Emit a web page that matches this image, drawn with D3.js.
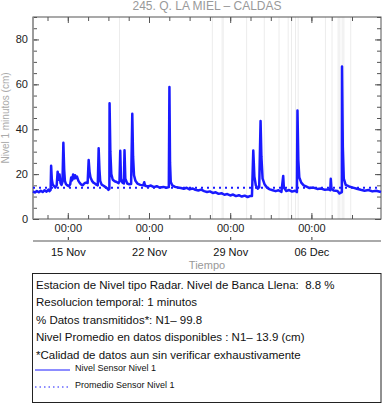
<!DOCTYPE html>
<html>
<head>
<meta charset="utf-8">
<script src="https://cdn.jsdelivr.net/npm/d3@7"></script>
<style>
  body { margin: 0; background: #fff; }
  svg { font-family: "Liberation Sans", Arial, sans-serif; display: block; }
  text { white-space: pre; }
</style>
</head>
<body>
<div id="chart"></div>
<script>
/* Series: time (month-day hour) and level in cm */
var times = [
  "11-12 00:00","11-12 04:00","11-12 08:00","11-12 12:00","11-12 16:00","11-12 20:00",
  "11-13 00:00","11-13 04:00","11-13 08:00","11-13 10:00","11-13 12:30","11-13 13:30","11-13 15:00","11-13 17:00","11-13 19:00","11-13 22:00",
  "11-14 01:00","11-14 03:00","11-14 05:00","11-14 07:00","11-14 09:00","11-14 11:00","11-14 13:00","11-14 14:50","11-14 16:30","11-14 18:00","11-14 20:00","11-14 23:00",
  "11-15 02:00","11-15 05:00","11-15 07:00","11-15 09:00","11-15 11:00","11-15 13:00","11-15 15:00","11-15 17:00","11-15 19:00","11-15 22:00",
  "11-16 01:00","11-16 04:00","11-16 07:00","11-16 10:00","11-16 13:00","11-16 17:00","11-16 19:10","11-16 21:00","11-16 23:00",
  "11-17 02:00","11-17 05:00","11-17 08:00","11-17 11:00","11-17 14:00","11-17 15:50","11-17 17:30","11-17 19:00","11-17 22:00",
  "11-18 02:00","11-18 06:00","11-18 10:00","11-18 12:00","11-18 14:00","11-18 14:25","11-18 16:00","11-18 18:00","11-18 21:00",
  "11-19 01:00","11-19 05:00","11-19 09:00","11-19 11:00","11-19 12:30","11-19 14:00","11-19 17:00","11-19 20:00","11-19 21:20","11-19 23:00",
  "11-20 03:00","11-20 07:00","11-20 11:00","11-20 13:25","11-20 15:00","11-20 17:00","11-20 20:00",
  "11-21 00:00","11-21 06:00","11-21 12:00","11-21 14:10","11-21 16:00","11-21 22:00",
  "11-22 04:00","11-22 10:00","11-22 16:00","11-22 22:00",
  "11-23 06:00","11-23 12:00","11-23 17:00","11-23 18:15","11-23 19:30","11-23 21:00",
  "11-24 00:00","11-24 06:00","11-24 12:00","11-24 18:00",
  "11-25 00:00","11-25 06:00","11-25 12:00","11-25 18:00",
  "11-26 00:00","11-26 06:00","11-26 12:00","11-26 18:00",
  "11-27 00:00","11-27 06:00","11-27 12:00","11-27 18:00",
  "11-28 00:00","11-28 06:00","11-28 12:00","11-28 18:00",
  "11-29 00:00","11-29 06:00","11-29 12:00","11-29 18:00",
  "11-30 00:00","11-30 06:00","11-30 12:00","11-30 18:00","11-30 21:00","11-30 23:45",
  "12-01 02:00","12-01 05:00","12-01 09:00","12-01 12:00","12-01 14:50","12-01 16:30","12-01 19:00","12-01 23:00",
  "12-02 04:00","12-02 10:00","12-02 16:00","12-02 22:00",
  "12-03 04:00","12-03 10:00","12-03 13:40","12-03 15:00","12-03 20:00",
  "12-04 02:00","12-04 08:00","12-04 14:00","12-04 18:00","12-04 19:10","12-04 21:00","12-04 23:00",
  "12-05 03:00","12-05 08:00","12-05 14:00","12-05 20:00",
  "12-06 04:00","12-06 12:00","12-06 20:00",
  "12-07 04:00","12-07 12:00","12-07 15:00","12-07 16:05","12-07 17:30","12-07 22:00",
  "12-08 06:00","12-08 10:00","12-08 15:00","12-08 15:20","12-08 17:00","12-08 19:00","12-08 23:00",
  "12-09 06:00","12-09 14:00","12-09 22:00",
  "12-10 06:00","12-10 14:00","12-10 22:00",
  "12-11 06:00","12-11 14:00","12-11 23:59"
];
var levels = [
  12.3,11.8,12.5,11.9,12.6,12.0,
  12.8,12.2,13.1,12.4,13.0,23.7,17.5,15.2,14.8,14.0,
  15.0,21.1,17.5,19.8,16.0,15.2,16.5,34.0,22.0,17.0,15.6,15.0,
  14.6,15.5,18.5,17.2,19.8,18.0,19.5,18.2,18.9,17.0,
  16.0,15.3,15.0,15.8,16.2,16.0,26.3,21.0,18.5,
  17.0,16.2,15.8,15.3,15.0,31.5,22.0,17.0,15.3,
  14.8,14.2,13.6,13.0,13.4,51.6,30.0,20.0,17.5,
  16.8,16.5,16.0,16.8,30.4,18.0,16.2,15.8,30.6,18.0,
  15.8,15.5,15.6,46.9,28.0,19.5,17.0,
  15.8,15.2,15.0,16.4,14.8,14.5,
  14.9,14.2,14.6,14.0,
  14.3,13.9,14.2,58.8,25.0,16.5,
  15.0,14.3,14.0,13.8,
  13.5,13.9,13.2,13.6,
  13.0,12.7,13.1,12.4,
  12.0,12.3,11.6,11.9,
  11.2,11.5,10.8,11.1,
  10.5,10.9,10.2,10.6,
  10.0,10.4,9.8,10.3,10.2,30.5,
  19.0,15.0,13.5,14.2,43.7,28.0,18.0,15.5,
  14.0,13.2,12.8,12.4,
  12.8,12.1,19.2,14.0,12.5,
  12.9,12.2,12.6,12.0,48.3,26.0,18.5,
  16.2,15.0,14.4,13.8,
  14.0,13.4,13.6,
  13.0,13.2,12.8,17.9,13.5,12.7,
  12.5,11.4,12.0,68.0,32.0,18.0,15.2,
  14.5,14.0,13.5,
  13.0,12.6,12.9,
  12.3,12.6,12.0
];
var meanLevel = 13.9;

/* Times with missing data, shown as light vertical lines */
var gapTimes = ["11-19 11:00","11-27 11:00","11-28 08:30","11-30 10:00","12-01 22:30","12-03 05:00",
  "12-04 00:00","12-04 06:45","12-04 15:10","12-04 20:40","12-07 05:00","12-07 18:40","12-08 09:00","12-08 17:30","12-09 09:20"];
var gapWidths = [1, 1, 2.5, 1, 1, 1, 1, 1, 1, 1, 1, 1, 3, 3, 1];

var yMajor = [0, 20, 40, 60, 80];
var xMajor = ["11-15 00:00", "11-22 00:00", "11-29 00:00", "12-06 00:00"];

var title = "245. Q. LA MIEL \u2013 CALDAS";
var infoLines = [
  "Estacion de Nivel tipo Radar. Nivel de Banca Llena:  8.8 %",
  "Resolucion temporal: 1 minutos",
  "% Datos transmitidos*: N1\u2013 99.8",
  "Nivel Promedio en datos disponibles : N1\u2013 13.9 (cm)",
  "*Calidad de datos aun sin verificar exhaustivamente"
];
var legendNames = ["Nivel Sensor Nivel 1", "Promedio Sensor Nivel 1"];

var parse = d3.timeParse("%Y-%m-%d %H:%M");
function toDate(t) { return parse("2023-" + t); }

var data = times.map(function (t, i) { return { date: toDate(t), value: levels[i] }; });

var width = 382, height = 404;
/* plot box */
var pLeft = 33, pRight = 381, pTop = 17, pBottom = 219;

var svg = d3.select("#chart").append("svg")
    .attr("width", width)
    .attr("height", height);

var x = d3.scaleTime()
    .domain([toDate("11-12 00:00"), toDate("12-12 00:00")])
    .range([pLeft, pRight]);
var y = d3.scaleLinear().domain([0, 90]).range([pBottom, pTop]);

/* Minor x ticks every 42 hours around the weekly 00:00 ticks */
var minorX = d3.range(-2, 15).map(function (k) {
    return d3.timeHour.offset(toDate("11-15 00:00"), k * 42);
}).filter(function (d) { return d > x.domain()[0] && d < x.domain()[1]; });
var majorX = xMajor.map(toDate);

/* gaps */
svg.append("g").selectAll("line")
    .data(gapTimes)
    .enter().append("line")
    .attr("x1", function (d) { return x(toDate(d)); })
    .attr("x2", function (d) { return x(toDate(d)); })
    .attr("y1", pTop).attr("y2", pBottom)
    .attr("stroke", function (d, i) { return gapWidths[i] > 2 ? "#f2f2f2" : "#ececec"; })
    .attr("stroke-width", function (d, i) { return gapWidths[i]; });

/* axes */
function styleAxis(g) {
    g.select(".domain").remove();
    g.selectAll(".tick line").attr("stroke", "#555");
    g.selectAll(".tick text").attr("fill", "#222").style("font-size", "11px");
}

svg.append("g").attr("transform", "translate(" + pLeft + ",0)")
    .call(d3.axisLeft(y).tickValues(d3.range(0, 91, 5)).tickSize(-4).tickFormat(""))
    .call(styleAxis);
svg.append("g").attr("transform", "translate(" + pLeft + ",0)")
    .call(d3.axisLeft(y).tickValues(yMajor).tickSize(-6).tickPadding(5))
    .call(styleAxis);
svg.append("g").attr("transform", "translate(" + pRight + ",0)")
    .call(d3.axisRight(y).tickValues(d3.range(0, 91, 5)).tickSize(-4).tickFormat(""))
    .call(styleAxis);
svg.append("g").attr("transform", "translate(" + pRight + ",0)")
    .call(d3.axisRight(y).tickValues(yMajor).tickSize(-6).tickFormat(""))
    .call(styleAxis);

svg.append("g").attr("transform", "translate(0," + pBottom + ")")
    .call(d3.axisBottom(x).tickValues(minorX).tickSize(-4).tickFormat(""))
    .call(styleAxis);
svg.append("g").attr("transform", "translate(0," + pBottom + ")")
    .call(d3.axisBottom(x).tickValues(majorX).tickSize(-6).tickPadding(5)
        .tickFormat(d3.timeFormat("%H:%M")))
    .call(styleAxis);
svg.append("g").attr("transform", "translate(0," + pTop + ")")
    .call(d3.axisTop(x).tickValues(minorX).tickSize(-4).tickFormat(""))
    .call(styleAxis);
svg.append("g").attr("transform", "translate(0," + pTop + ")")
    .call(d3.axisTop(x).tickValues(majorX).tickSize(-6).tickFormat(""))
    .call(styleAxis);

/* frame */
svg.append("rect")
    .attr("x", pLeft).attr("y", pTop)
    .attr("width", pRight - pLeft).attr("height", pBottom - pTop)
    .attr("fill", "none").attr("stroke", "#555").attr("stroke-width", 1);
svg.append("line")
    .attr("x1", pLeft).attr("x2", pLeft).attr("y1", pTop).attr("y2", pBottom)
    .attr("stroke", "#999").attr("stroke-width", 1.5);

/* mean line */
svg.append("line")
    .attr("x1", pLeft).attr("x2", pRight)
    .attr("y1", y(meanLevel)).attr("y2", y(meanLevel))
    .attr("stroke", "#1a1aff").attr("stroke-width", 2)
    .attr("stroke-dasharray", "2,4");

/* level line */
var valueline = d3.line()
    .x(function (d) { return x(d.date); })
    .y(function (d) { return y(d.value); });
svg.append("path")
    .datum(data)
    .attr("d", valueline)
    .attr("fill", "none")
    .attr("stroke", "#1a1aff")
    .attr("stroke-width", 2.5)
    .attr("stroke-linejoin", "round");

/* date axis below */
var dateAxis = svg.append("g").attr("transform", "translate(0,240)")
    .call(d3.axisBottom(x).tickValues(majorX).tickSize(-3).tickPadding(8)
        .tickFormat(d3.timeFormat("%d %b")));
dateAxis.select(".domain").remove();
dateAxis.selectAll(".tick line").attr("stroke", "#333");
dateAxis.selectAll(".tick text").attr("fill", "#111").style("font-size", "11px");
svg.append("line")
    .attr("x1", pLeft).attr("x2", pRight).attr("y1", 241).attr("y2", 241)
    .attr("stroke", "#aaa").attr("stroke-width", 2);

/* titles */
svg.append("text")
    .attr("x", (pLeft + pRight) / 2).attr("y", 10)
    .attr("text-anchor", "middle")
    .attr("fill", "#999").style("font-size", "12px")
    .text(title);
svg.append("text")
    .attr("transform", "translate(9," + ((pTop + pBottom) / 2) + ") rotate(-90)")
    .attr("text-anchor", "middle")
    .attr("fill", "#aaa").style("font-size", "10px")
    .text("Nivel 1 minutos (cm)");
svg.append("text")
    .attr("x", (pLeft + pRight) / 2).attr("y", 269)
    .attr("text-anchor", "middle")
    .attr("fill", "#999").style("font-size", "11px")
    .text("Tiempo");

/* info box */
svg.append("rect")
    .attr("x", 32.5).attr("y", 273.5)
    .attr("width", 348.5).attr("height", 129)
    .attr("fill", "none").attr("stroke", "#222").attr("stroke-width", 1);
svg.append("g").selectAll("text")
    .data(infoLines)
    .enter().append("text")
    .attr("x", 36)
    .attr("y", function (d, i) { return 288.5 + i * 17.5; })
    .attr("fill", "#111").style("font-size", "11.5px")
    .text(function (d) { return d; });

var legend = svg.append("g").selectAll("g")
    .data(legendNames)
    .enter().append("g")
    .attr("transform", function (d, i) { return "translate(0," + (370 + i * 17) + ")"; });
legend.append("line")
    .attr("x1", 35).attr("x2", 70).attr("y1", 0).attr("y2", 0)
    .attr("stroke", "#1a1aff").attr("stroke-width", 1)
    .attr("stroke-dasharray", function (d, i) { return i ? "1.5,3" : null; });
legend.append("text")
    .attr("x", 75).attr("y", 1)
    .attr("fill", "#111").style("font-size", "9px")
    .text(function (d) { return d; });
</script>
</body>
</html>
